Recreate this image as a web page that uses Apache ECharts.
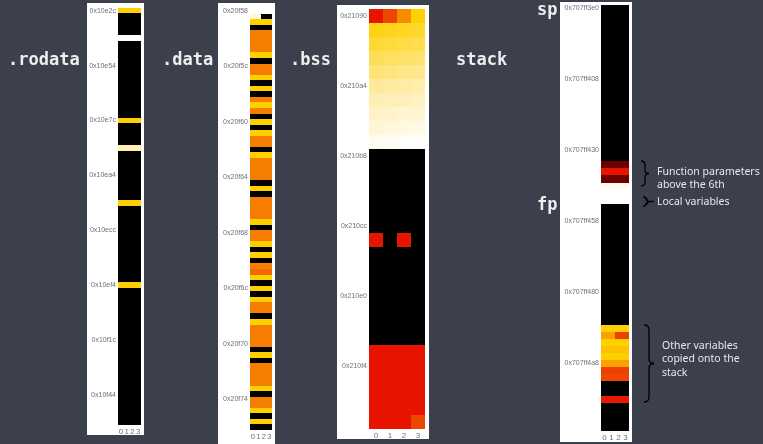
<!DOCTYPE html>
<html>
<head>
<meta charset="utf-8">
<script src="https://cdn.jsdelivr.net/npm/echarts@6/dist/echarts.min.js"></script>
<style>
  html, body { margin: 0; padding: 0; background: #3b404c; }
  #chart { width: 763px; height: 444px; }
</style>
</head>
<body>
<div id="chart"></div>
<script>
// one row = one 4-byte word, values are byte values 0..255
const byteCols = ['0', '1', '2', '3'];

const rodataTicks = ['0x10e2c', '0x10e54', '0x10e7c', '0x10ea4', '0x10ecc', '0x10ef4', '0x10f1c', '0x10f44'];
const dataTicks = ['0x20f58', '0x20f5c', '0x20f60', '0x20f64', '0x20f68', '0x20f6c', '0x20f70', '0x20f74'];
const bssTicks = ['0x21090', '0x210a4', '0x210b8', '0x210cc', '0x210e0', '0x210f4'];
const stackTicks = ['0x707ff3e0', '0x707ff408', '0x707ff430', '0x707ff458', '0x707ff480', '0x707ff4a8'];

const rodataBytes = [
  [182,182,182,182], [0,0,0,0], [0,0,0,0], [0,0,0,0], [0,0,0,0],
  [255,255,255,255], [0,0,0,0], [0,0,0,0], [0,0,0,0], [0,0,0,0],
  [0,0,0,0], [0,0,0,0], [0,0,0,0], [0,0,0,0], [0,0,0,0],
  [0,0,0,0], [0,0,0,0], [0,0,0,0], [0,0,0,0], [0,0,0,0],
  [182,182,182,182], [0,0,0,0], [0,0,0,0], [0,0,0,0], [0,0,0,0],
  [225,225,225,225], [0,0,0,0], [0,0,0,0], [0,0,0,0], [0,0,0,0],
  [0,0,0,0], [0,0,0,0], [0,0,0,0], [0,0,0,0], [0,0,0,0],
  [182,182,182,182], [0,0,0,0], [0,0,0,0], [0,0,0,0], [0,0,0,0],
  [0,0,0,0], [0,0,0,0], [0,0,0,0], [0,0,0,0], [0,0,0,0],
  [0,0,0,0], [0,0,0,0], [0,0,0,0], [0,0,0,0], [0,0,0,0],
  [182,182,182,182], [0,0,0,0], [0,0,0,0], [0,0,0,0], [0,0,0,0],
  [0,0,0,0], [0,0,0,0], [0,0,0,0], [0,0,0,0], [0,0,0,0],
  [0,0,0,0], [0,0,0,0], [0,0,0,0], [0,0,0,0], [0,0,0,0],
  [0,0,0,0], [0,0,0,0], [0,0,0,0], [0,0,0,0], [0,0,0,0],
  [0,0,0,0], [0,0,0,0], [0,0,0,0], [0,0,0,0], [0,0,0,0],
  [0,0,0,0]
];

const dataBytes = [
  [255,255,255,255], [240,240,0,0], [182,182,182,182], [0,0,0,0], [130,130,130,130],
  [130,130,130,130], [130,130,130,130], [130,130,130,130], [182,182,182,182], [0,0,0,0],
  [130,130,130,130], [130,130,130,130], [182,182,182,182], [0,0,0,0], [182,182,182,182],
  [0,0,0,0], [130,130,130,130], [182,182,182,182], [130,130,130,130], [0,0,0,0],
  [182,182,182,182], [0,0,0,0], [182,182,182,182], [130,130,130,130], [130,130,130,130],
  [0,0,0,0], [182,182,182,182], [130,130,130,130], [130,130,130,130], [130,130,130,130],
  [130,130,130,130], [0,0,0,0], [182,182,182,182], [0,0,0,0], [130,130,130,130],
  [130,130,130,130], [130,130,130,130], [130,130,130,130], [182,182,182,182], [0,0,0,0],
  [130,130,130,130], [130,130,130,130], [182,182,182,182], [0,0,0,0], [182,182,182,182],
  [0,0,0,0], [130,130,130,130], [118,118,118,118], [182,182,182,182], [0,0,0,0],
  [182,182,182,182], [0,0,0,0], [182,182,182,182], [130,130,130,130], [130,130,130,130],
  [0,0,0,0], [182,182,182,182], [130,130,130,130], [130,130,130,130], [130,130,130,130],
  [130,130,130,130], [0,0,0,0], [182,182,182,182], [0,0,0,0], [130,130,130,130],
  [130,130,130,130], [130,130,130,130], [130,130,130,130], [182,182,182,182], [0,0,0,0],
  [130,130,130,130], [130,130,130,130], [182,182,182,182], [0,0,0,0], [182,182,182,182],
  [0,0,0,0]
];

const bssBytes = [
  [73,100,138,182],
  [186,188,190,192], [194,196,198,200], [202,204,206,207], [209,211,213,215],
  [217,219,221,223], [225,227,229,231], [233,235,237,238], [240,242,244,246],
  [248,250,252,254],
  [0,0,0,0], [0,0,0,0], [0,0,0,0], [0,0,0,0], [0,0,0,0],
  [0,0,0,0], [73,0,73,0], [0,0,0,0], [0,0,0,0], [0,0,0,0],
  [0,0,0,0], [0,0,0,0], [0,0,0,0], [0,0,0,0],
  [73,73,73,73], [73,73,73,73], [73,73,73,73], [73,73,73,73], [73,73,73,73],
  [73,73,73,100]
];

const stackBytes = [
  [0,0,0,0], [0,0,0,0], [0,0,0,0], [0,0,0,0], [0,0,0,0],
  [0,0,0,0], [0,0,0,0], [0,0,0,0], [0,0,0,0], [0,0,0,0],
  [0,0,0,0], [0,0,0,0], [0,0,0,0], [0,0,0,0], [0,0,0,0],
  [0,0,0,0], [0,0,0,0], [0,0,0,0], [0,0,0,0], [0,0,0,0],
  [0,0,0,0], [0,0,0,0], [33,33,33,33], [73,73,73,73], [33,33,33,33],
  [248,248,248,248], [255,255,255,255], [255,255,255,255], [0,0,0,0], [0,0,0,0],
  [0,0,0,0], [0,0,0,0], [0,0,0,0], [0,0,0,0], [0,0,0,0],
  [0,0,0,0], [0,0,0,0], [0,0,0,0], [0,0,0,0], [0,0,0,0],
  [0,0,0,0], [0,0,0,0], [0,0,0,0], [0,0,0,0], [0,0,0,0],
  [182,182,182,182], [150,150,95,95], [182,182,182,182], [172,172,172,172], [182,182,182,182],
  [150,150,150,150], [95,95,95,95], [100,100,100,100], [0,0,0,0], [0,0,0,0],
  [75,75,75,75], [0,0,0,0], [0,0,0,0], [0,0,0,0], [0,0,0,0]
];

const panels = [
  { bytes: rodataBytes, ticks: rodataTicks, every: 10, grid: { left: 118, top: 8, width: 23, height: 417 } },
  { bytes: dataBytes, ticks: dataTicks, every: 10, grid: { left: 250, top: 8, width: 22, height: 422 } },
  { bytes: bssBytes, ticks: bssTicks, every: 5, grid: { left: 369, top: 9, width: 56, height: 420 } },
  { bytes: stackBytes, ticks: stackTicks, every: 10, grid: { left: 601, top: 5, width: 28, height: 426 } }
];

function cells(rows) {
  const out = [];
  rows.forEach((row, r) => row.forEach((v, c) => out.push([c, r, v])));
  return out;
}

// snap to whole pixels (after killing float noise) so neighbours share an edge
const snap = v => Math.round(Math.round(v * 1000) / 1000);

function renderCell(params, api) {
  const c = api.coord([api.value(0), api.value(1)]);
  const s = api.size([1, 1]);
  const x0 = snap(c[0] - s[0] / 2), x1 = snap(c[0] + s[0] / 2);
  const y0 = snap(c[1] - s[1] / 2), y1 = snap(c[1] + s[1] / 2);
  return {
    type: 'rect',
    shape: { x: x0, y: y0, width: x1 - x0, height: y1 - y0 },
    style: { fill: api.visual('color') }
  };
}

// curly brace opening to the left, tip pointing right
function brace(x, y1, y2, w) {
  const m = (y1 + y2) / 2, h = w / 2;
  const st = { stroke: '#000', fill: 'none', lineWidth: 1.3 };
  const q = (x1, yy1, cx, cy, x2, yy2) => ({ type: 'bezierCurve', shape: { x1, y1: yy1, cpx1: cx, cpy1: cy, x2, y2: yy2 }, style: st });
  const l = (x1, yy1, x2, yy2) => ({ type: 'line', shape: { x1, y1: yy1, x2, y2: yy2 }, style: st });
  return {
    type: 'group', z: 10,
    children: [
      q(x, y1, x + h, y1, x + h, y1 + h),
      l(x + h, y1 + h, x + h, m - h),
      q(x + h, m - h, x + h, m, x + w, m),
      q(x + w, m, x + h, m, x + h, m + h),
      l(x + h, m + h, x + h, y2 - h),
      q(x + h, y2 - h, x + h, y2, x, y2)
    ]
  };
}

const labelFont = 'bold 17px "DejaVu Sans Mono"';
const noteFont = '10.5px "Noto Sans"';
const txt = (text, x, y, font, fill) => ({
  type: 'text', z: 10,
  style: { text, x, y, font, fill, textVerticalAlign: 'middle', verticalAlign: 'middle' }
});

const myChart = echarts.init(document.getElementById('chart'));

const option = {
  backgroundColor: '#3b404c',
  animation: false,
  grid: panels.map(p => Object.assign({ outerBoundsMode: 'none' }, p.grid)),
  xAxis: panels.map((p, i) => ({
    type: 'category', gridIndex: i, data: byteCols,
    axisLine: { show: false }, axisTick: { show: false }, splitLine: { show: false },
    axisLabel: { interval: 0, fontSize: 8, color: '#6e7079', margin: 3 }
  })),
  yAxis: panels.map((p, i) => ({
    type: 'category', gridIndex: i, inverse: true,
    data: p.bytes.map((_, r) => String(r)),
    axisLine: { show: false }, axisTick: { show: false }, splitLine: { show: false },
    axisLabel: {
      interval: p.every - 1, fontSize: 7, color: '#6e7079', margin: 2,
      formatter: (v, idx) => p.ticks[idx / p.every] || ''
    }
  })),
  visualMap: {
    show: false, type: 'continuous', min: 0, max: 255, dimension: 2,
    seriesIndex: [0, 1, 2, 3],
    inRange: { color: ['#000000', '#760000', '#e81400', '#f05a00', '#f99a00', '#ffd000', '#ffeaa0', '#ffffff'] }
  },
  series: panels.map((p, i) => ({
    type: 'custom', xAxisIndex: i, yAxisIndex: i,
    data: cells(p.bytes),
    encode: { x: 0, y: 1 },
    renderItem: renderCell,
    emphasis: { disabled: true }
  })),
  graphic: [
    { type: 'rect', z: -1, shape: { x: 87, y: 3, width: 57, height: 432 }, style: { fill: '#fff' } },
    { type: 'rect', z: -1, shape: { x: 218, y: 3, width: 57, height: 445 }, style: { fill: '#fff' } },
    { type: 'rect', z: -1, shape: { x: 337, y: 5, width: 92, height: 434 }, style: { fill: '#fff' } },
    { type: 'rect', z: -1, shape: { x: 560, y: 2, width: 72, height: 440 }, style: { fill: '#fff' } },

    txt('.rodata', 8, 61, labelFont, '#eeeeee'),
    txt('.data', 162, 61, labelFont, '#eeeeee'),
    txt('.bss', 290, 61, labelFont, '#eeeeee'),
    txt('stack', 456, 61, labelFont, '#eeeeee'),
    txt('sp', 537, 11, labelFont, '#eeeeee'),
    txt('fp', 537, 206, labelFont, '#eeeeee'),

    brace(641, 161, 186, 8),
    brace(643, 197, 206, 7),
    { type: 'line', z: 10, shape: { x1: 650, y1: 201.5, x2: 654, y2: 201.5 }, style: { stroke: '#000', lineWidth: 1.3 } },
    brace(644, 325, 402, 10),

    txt('Function parameters', 657, 172, noteFont, '#e8e8e8'),
    txt('above the 6th', 657, 185, noteFont, '#e8e8e8'),
    txt('Local variables', 657, 202, noteFont, '#e8e8e8'),
    txt('Other variables', 662, 346, noteFont, '#e8e8e8'),
    txt('copied onto the', 662, 359, noteFont, '#e8e8e8'),
    txt('stack', 662, 373, noteFont, '#e8e8e8')
  ]
};

myChart.setOption(option);
window.addEventListener('resize', () => {
  myChart.resize();
});
</script>
</body>
</html>
